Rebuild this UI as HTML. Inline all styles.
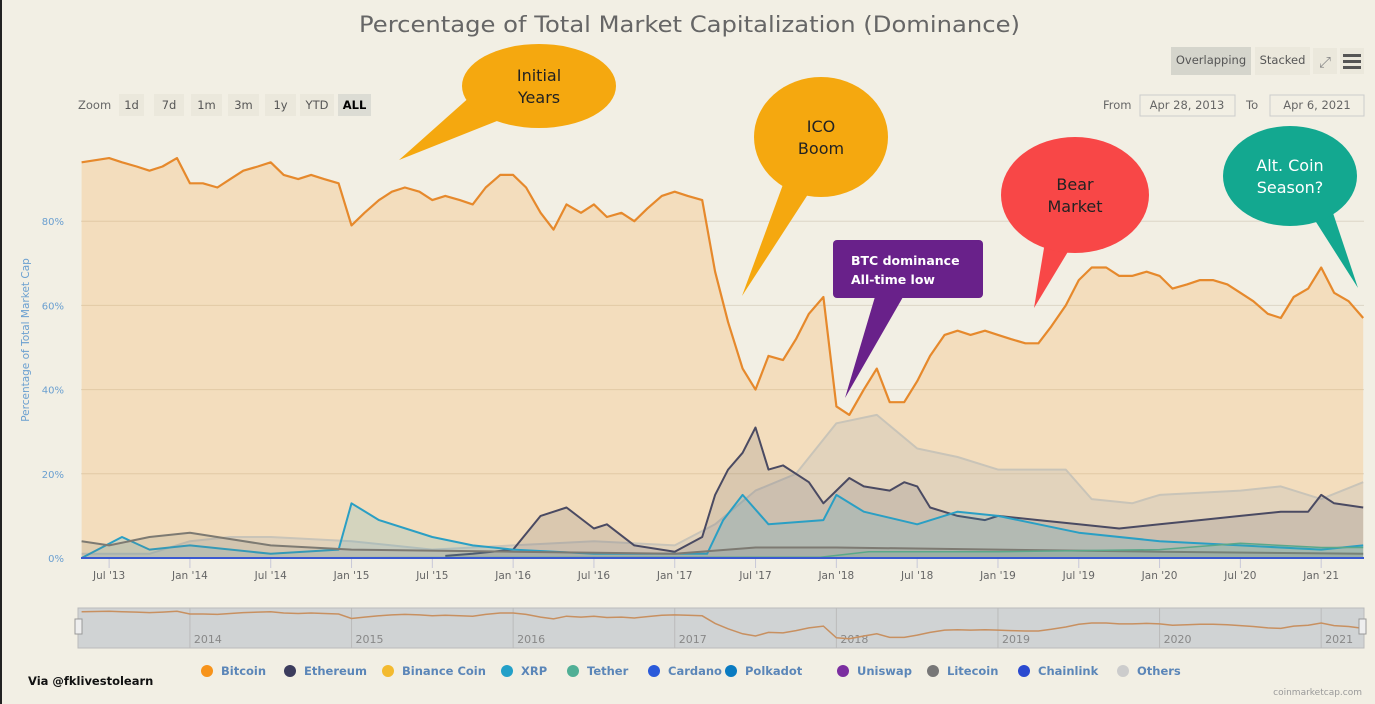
<!DOCTYPE html>
<html><head><meta charset="utf-8">
<style>
body{margin:0;background:#fff;}
#wrap{position:relative;width:1375px;height:704px;background:#f2efe4;overflow:hidden;font-family:"Liberation Sans",sans-serif;border-left:2px solid #222;box-sizing:border-box}
svg text{font-family:"DejaVu Sans","Liberation Sans",sans-serif}
</style></head><body>
<div id="wrap">
<svg id="chart" width="1375" height="704"></svg>
</div>
<script>
// ---- data ----
const btcDates=[2013.33,2013.5,2013.58,2013.67,2013.75,2013.83,2013.92,2014.0,2014.08,2014.17,2014.25,2014.33,2014.42,2014.5,2014.58,2014.67,2014.75,2014.83,2014.92,2015.0,2015.08,2015.17,2015.25,2015.33,2015.42,2015.5,2015.58,2015.67,2015.75,2015.83,2015.92,2016.0,2016.08,2016.17,2016.25,2016.33,2016.42,2016.5,2016.58,2016.67,2016.75,2016.83,2016.92,2017.0,2017.08,2017.17,2017.25,2017.33,2017.42,2017.5,2017.58,2017.67,2017.75,2017.83,2017.92,2018.0,2018.08,2018.17,2018.25,2018.33,2018.42,2018.5,2018.58,2018.67,2018.75,2018.83,2018.92,2019.0,2019.08,2019.17,2019.25,2019.33,2019.42,2019.5,2019.58,2019.67,2019.75,2019.83,2019.92,2020.0,2020.08,2020.17,2020.25,2020.33,2020.42,2020.5,2020.58,2020.67,2020.75,2020.83,2020.92,2021.0,2021.08,2021.17,2021.26];
const btcValues=[94,95,94,93,92,93,95,89,89,88,90,92,93,94,91,90,91,90,89,79,82,85,87,88,87,85,86,85,84,88,91,91,88,82,78,84,82,84,81,82,80,83,86,87,86,85,68,56,45,40,48,47,52,58,62,36,34,40,45,37,37,42,48,53,54,53,54,53,52,51,51,55,60,66,69,69,67,67,68,67,64,65,66,66,65,63,61,58,57,62,64,69,63,61,57];
const ethDates=[2015.58,2015.75,2016.0,2016.17,2016.33,2016.5,2016.58,2016.75,2017.0,2017.17,2017.25,2017.33,2017.42,2017.5,2017.58,2017.67,2017.83,2017.92,2018.0,2018.08,2018.17,2018.33,2018.42,2018.5,2018.58,2018.75,2018.92,2019.0,2019.25,2019.5,2019.75,2020.0,2020.25,2020.5,2020.75,2020.92,2021.0,2021.08,2021.26];
const ethValues=[0.5,1,2,10,12,7,8,3,1.5,5,15,21,25,31,21,22,18,13,16,19,17,16,18,17,12,10,9,10,9,8,7,8,9,10,11,11,15,13,12];
const xrpDates=[2013.33,2013.58,2013.75,2014.0,2014.5,2014.92,2015.0,2015.17,2015.5,2015.75,2016.0,2016.5,2017.0,2017.2,2017.3,2017.42,2017.58,2017.92,2018.0,2018.17,2018.5,2018.75,2019.0,2019.5,2020.0,2020.5,2021.0,2021.26];
const xrpValues=[0,5,2,3,1,2,13,9,5,3,2,1,1,1,9,15,8,9,15,11,8,11,10,6,4,3,2,3];
const othDates=[2013.33,2013.75,2014.0,2014.25,2014.5,2015.0,2015.5,2016.0,2016.5,2017.0,2017.25,2017.5,2017.75,2018.0,2018.25,2018.5,2018.75,2019.0,2019.42,2019.58,2019.83,2020.0,2020.5,2020.75,2021.0,2021.26];
const othValues=[1,1,4,5,5,4,2,3,4,3,8,16,20,32,34,26,24,21,21,14,13,15,16,17,14,18];
const ltcDates=[2013.33,2013.5,2013.75,2014.0,2014.5,2015.0,2016.0,2017.0,2017.5,2018.0,2019.0,2020.0,2021.26];
const ltcValues=[4,3,5,6,3,2,1.5,1,2.5,2.5,2,1.5,1];
const usdtDates=[2013.33,2017.9,2018.2,2019.0,2020.0,2020.5,2021.0,2021.26];
const usdtValues=[0,0.2,1.5,1.5,2,3.5,2.5,2.5];
const yTicks=[0,20,40,60,80];
const xTickLabels=["Jul '13","Jan '14","Jul '14","Jan '15","Jul '15","Jan '16","Jul '16","Jan '17","Jul '17","Jan '18","Jul '18","Jan '19","Jul '19","Jan '20","Jul '20","Jan '21"];
const xTickDates=[2013.5,2014.0,2014.5,2015.0,2015.5,2016.0,2016.5,2017.0,2017.5,2018.0,2018.5,2019.0,2019.5,2020.0,2020.5,2021.0];
const navYears=["2014","2015","2016","2017","2018","2019","2020","2021"];
const legendNames=["Bitcoin","Ethereum","Binance Coin","XRP","Tether","Cardano","Polkadot","Uniswap","Litecoin","Chainlink","Others"];
const legendColors=["#f7931a","#3c3c5d","#f3ba2f","#23a0c8","#50af95","#2a5ada","#0a7bc1","#7b2ea0","#777777","#2a4ad0","#cccccc"];

// ---- axes ----
const X0=79,X1=1362,T0=2013.326,T1=2021.265;
const xS=t=>X0+(t-T0)/(T1-T0)*(X1-X0);
const yS=v=>558-v*4.21;
const nyS=v=>654-v*0.45;
const NS='http://www.w3.org/2000/svg';
const svg=document.getElementById('chart');
function el(tag,attrs,parent){const e=document.createElementNS(NS,tag);for(const k in attrs)e.setAttribute(k,attrs[k]);(parent||svg).appendChild(e);return e;}
function txt(s,attrs,parent){const e=el('text',attrs,parent);e.textContent=s;return e;}

yTicks.forEach(v=>{
 const g=el('line',{x1:X0,x2:X1,y1:yS(v),y2:yS(v),stroke:'#dcd6c6','stroke-width':1});
 
 
 const t=txt(v+'%',{x:62,y:yS(v)+4,'text-anchor':'end','font-size':10,fill:'#6a9fd0'});
 
 
});
function series(dates,vals,stroke,fill,name,sw){
 let d='';dates.forEach((t,i)=>{d+=(i?'L':'M')+xS(t).toFixed(1)+','+yS(vals[i]).toFixed(1);});
 const a=el('path',{d:d+'L'+xS(dates[dates.length-1])+','+yS(0)+'L'+xS(dates[0])+','+yS(0)+'Z',fill:fill,stroke:'none'});
 
 
 const l=el('path',{d:d,fill:'none',stroke:stroke,'stroke-width':sw||2,'stroke-linejoin':'round'});
 
 
}
series(btcDates,btcValues,'#e6892c','rgba(247,160,50,0.22)','bitcoin',2.2);
series(othDates,othValues,'#c9c4b8','rgba(190,190,185,0.3)','others',2);
series(ethDates,ethValues,'#4a4a62','rgba(80,80,100,0.15)','ethereum',2);
series(xrpDates,xrpValues,'#2a9fc4','rgba(42,160,200,0.15)','xrp',2);
series(ltcDates,ltcValues,'#7d7a72','rgba(120,120,110,0.15)','litecoin',2);
series(usdtDates,usdtValues,'#5aa88a','rgba(80,175,149,0.15)','tether',1.5);
const base=el('line',{x1:X0,x2:X1,y1:yS(0),y2:yS(0),stroke:'#3a5ad0','stroke-width':2});



xTickDates.forEach((t,i)=>{
 el('line',{x1:xS(t),x2:xS(t),y1:559,y2:568,stroke:'#c8c8d8'});
 const l=txt(xTickLabels[i],{x:xS(t),y:579,'text-anchor':'middle','font-size':10.5,fill:'#666'});
 
 
});
const yt=txt('Percentage of Total Market Cap',{x:0,y:0,transform:'translate(27,340) rotate(-90)','text-anchor':'middle','font-size':10.5,fill:'#6a9fd0'});



const nav=el('rect',{x:76,y:608,width:1286,height:40,fill:'#d0d3d4',stroke:'#bbb'});


navYears.forEach((y,i)=>{
 const t=2014+i;const x=xS(t);
 el('line',{x1:x,x2:x,y1:608,y2:648,stroke:'#bbb'});
 const l=txt(y,{x:x+4,y:643,'font-size':11,fill:'#888'});
 
 
});
{let d='';btcDates.forEach((t,i)=>{d+=(i?'L':'M')+xS(t).toFixed(1)+','+nyS(btcValues[i]).toFixed(1);});
 const n=el('path',{d:d,fill:'none',stroke:'#c89060','stroke-width':1.5});
 
 }
[73,1357].forEach(x=>{const h=el('rect',{x:x,y:619,width:7,height:15,fill:'#eee',stroke:'#999'});
 
 });

const legX=[205,288,386,505,571,652,729,841,931,1022,1121];
legendNames.forEach((n,i)=>{
 const g=el('g',{});
 
 
 el('circle',{cx:legX[i],cy:671,r:6,fill:legendColors[i]},g);
 txt(n,{x:legX[i]+14,y:675,'font-size':11.5,'font-weight':'bold',fill:'#5b86b8'},g);
});

const ti=txt('Percentage of Total Market Capitalization (Dominance)',{x:357,y:32,'font-size':22,fill:'#666',textLength:661,lengthAdjust:'spacingAndGlyphs'});


const via=txt('Via @fklivestolearn',{x:26,y:685,'font-size':11.5,'font-weight':'bold',fill:'#111'});


const cr=txt('coinmarketcap.com',{x:1360,y:695,'text-anchor':'end','font-size':9,fill:'#999'});



txt('Zoom',{x:76,y:109,'font-size':11.5,fill:'#666'});
const zb=[['1d',117,25],['7d',152,30],['1m',189,31],['3m',226,31],['1y',263,31],['YTD',298,34],['ALL',336,33]];
zb.forEach(b=>{const g=el('g',{});
 
 
 el('rect',{x:b[1],y:94,width:b[2],height:22,fill:b[0]=='ALL'?'#dcdcd4':'#ebe8dc'},g);
 txt(b[0],{x:b[1]+b[2]/2,y:109,'text-anchor':'middle','font-size':11.5,fill:b[0]=='ALL'?'#000':'#555','font-weight':b[0]=='ALL'?'bold':'normal'},g);});
txt('From',{x:1101,y:109,'font-size':11.5,fill:'#666'});
const f=el('rect',{x:1138,y:95,width:95,height:21,fill:'none',stroke:'#ccc'});


txt('Apr 28, 2013',{x:1185,y:109,'text-anchor':'middle','font-size':11.5,fill:'#666'});
txt('To',{x:1244,y:109,'font-size':11.5,fill:'#666'});
const to=el('rect',{x:1268,y:95,width:94,height:21,fill:'none',stroke:'#ccc'});


txt('Apr 6, 2021',{x:1315,y:109,'text-anchor':'middle','font-size':11.5,fill:'#666'});
[['Overlapping',1169,80,'#d5d5cc'],['Stacked',1253,55,'#ebe8dc']].forEach(b=>{const g=el('g',{});
 
 
 el('rect',{x:b[1],y:47,width:b[2],height:28,fill:b[3]},g);
 txt(b[0],{x:b[1]+b[2]/2,y:64,'text-anchor':'middle','font-size':11.5,fill:'#555'},g);});
{const g=el('g',{});
 el('rect',{x:1311,y:48,width:24,height:26,fill:'#ebe8dc'},g);
 txt('⤢',{x:1323,y:67,'text-anchor':'middle','font-size':15,fill:'#888'},g);}
{const g=el('g',{});
 el('rect',{x:1338,y:48,width:24,height:26,fill:'#ebe8dc'},g);
 [54,60,66].forEach(y=>el('rect',{x:1341,y:y,width:18,height:3,fill:'#555'},g));}

function bubble(name,cx,cy,rx,ry,tail,color,lines,fs,tc){
 const g=el('g',{});
 
 
 el('polygon',{points:tail,fill:color},g);
 el('ellipse',{cx:cx,cy:cy,rx:rx,ry:ry,fill:color},g);
 lines.forEach((s,i)=>txt(s,{x:cx,y:cy+(i-(lines.length-1)/2)*22+6,'text-anchor':'middle','font-size':fs,fill:tc||'#222'},g));
}
bubble('initial-years-callout',537,86,77,42,'470,95,510,115,397,160','#f5a80f',['Initial','Years'],16);
bubble('ico-boom-callout',819,137,67,60,'790,160,812,185,740,296','#f5a80f',['ICO','Boom'],16);
bubble('bear-market-callout',1073,195,74,58,'1045,230,1070,245,1032,308','#f84747',['Bear','Market'],16);
bubble('altcoin-season-callout',1288,176,67,50,'1300,200,1330,210,1356,288','#13a890',['Alt. Coin','Season?'],16,'#fff');
{const g=el('g',{});
 
 
 el('polygon',{points:'875,290,905,290,843,398','fill':'#69218a'},g);
 el('rect',{x:831,y:240,width:150,height:58,rx:4,fill:'#69218a'},g);
 txt('BTC dominance',{x:849,y:265,'font-size':12.5,'font-weight':'bold',fill:'#fff'},g);
 txt('All-time low',{x:849,y:284,'font-size':12.5,'font-weight':'bold',fill:'#fff'},g);}
</script>
</body></html>
